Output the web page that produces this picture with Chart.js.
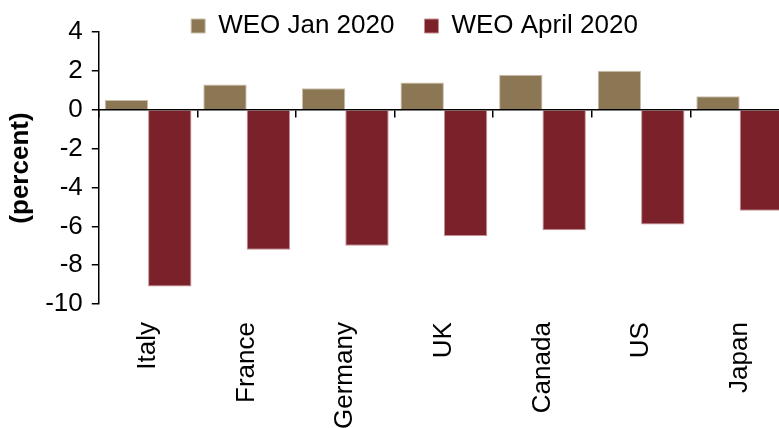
<!DOCTYPE html>
<html>
<head>
<meta charset="utf-8">
<script src="https://cdn.jsdelivr.net/npm/chart.js@4"></script>
<style>
  html, body { margin: 0; padding: 0; background: #fff; overflow: hidden; }
  #wrap { position: relative; width: 790px; height: 428px; }
</style>
</head>
<body>
<div id="wrap"><canvas id="c"></canvas></div>
<script>
const categories = ['Italy', 'France', 'Germany', 'UK', 'Canada', 'US', 'Japan'];
const weoJan2020 = [0.5, 1.3, 1.1, 1.4, 1.8, 2.0, 0.7];
const weoApr2020 = [-9.1, -7.2, -7.0, -6.5, -6.2, -5.9, -5.2];
const seriesNames = ['WEO Jan 2020', 'WEO April 2020'];
const yAxisTitle = '(percent)';
const yMin = -10, yMax = 4, yStep = 2;

const FONT = "'Liberation Sans', Arial, sans-serif";

// Legend placement tweaks (layout only)
const legendPlacement = {
  id: 'legendPlacement',
  beforeLayout(chart) {
    const l = chart.legend;
    if (l && !l._patchedFit) {
      const origFit = l.fit;
      l.fit = function () { origFit.call(this); this.height = 32; };
      l._patchedFit = true;
    }
  },
  afterLayout(chart) {
    const l = chart.legend;
    if (l) {
      l.left += 20; l.right += 20;
      l.top -= 17;
      l.height = 100;
      l.bottom = l.top + l.height;
    }
  }
};

new Chart(document.getElementById('c'), {
  type: 'bar',
  data: {
    labels: categories,
    datasets: [
      {
        label: seriesNames[0],
        data: weoJan2020,
        backgroundColor: '#8C7755',
        borderColor: '#cbbfa9',
        borderWidth: 1,
        categoryPercentage: 0.88,
        barPercentage: 1.0
      },
      {
        label: seriesNames[1],
        data: weoApr2020,
        backgroundColor: '#7B2129',
        borderColor: '#c48f93',
        borderWidth: 1,
        categoryPercentage: 0.88,
        barPercentage: 1.0
      }
    ]
  },
  options: {
    responsive: true,
    maintainAspectRatio: false,
    animation: false,
    layout: { padding: { top: 0, right: 1, bottom: -19, left: 0 } },
    plugins: {
      tooltip: { enabled: false },
      legend: {
        position: 'top',
        labels: {
          font: { family: FONT, size: 26 },
          color: '#000',
          boxWidth: 14,
          boxHeight: 14,
          padding: 30
        }
      }
    },
    scales: {
      x: {
        type: 'category',
        position: 'bottom',
        grid: { display: false, drawTicks: false },
        border: { display: false },
        ticks: {
          color: '#000',
          font: { family: FONT, size: 26 },
          minRotation: 90,
          maxRotation: 90,
          padding: 18,
          autoSkip: false
        }
      },
      x0: {
        type: 'category',
        labels: categories,
        position: { y: 0 },
        offset: true,
        grid: {
          display: true,
          drawOnChartArea: false,
          drawTicks: true,
          tickLength: 7,
          color: '#000',
          lineWidth: 1.5,
          offset: true
        },
        border: { display: true, color: '#000', width: 1.5 },
        ticks: { display: false }
      },
      y: {
        min: yMin,
        max: yMax,
        ticks: {
          stepSize: yStep,
          autoSkip: false,
          color: '#000',
          font: { family: FONT, size: 26 },
          padding: 9
        },
        grid: {
          drawOnChartArea: false,
          drawTicks: true,
          tickLength: 7,
          color: '#000',
          lineWidth: 1.5
        },
        border: { display: true, color: '#000', width: 1.5 },
        title: {
          display: true,
          text: yAxisTitle,
          color: '#000',
          font: { family: FONT, size: 26, weight: 'bold' },
          padding: { top: 5, bottom: 0 }
        }
      }
    }
  },
  plugins: [legendPlacement]
});
</script>
</body>
</html>
